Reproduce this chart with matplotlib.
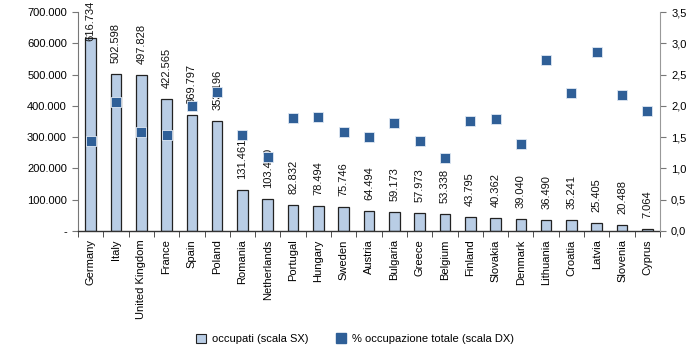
import numpy as np
import matplotlib.pyplot as plt
from matplotlib.patches import Patch
from matplotlib.lines import Line2D

plt.rcParams['font.family'] = ['Liberation Sans', 'DejaVu Sans']

# Data
countries = ['Germany', 'Italy', 'United Kingdom', 'France', 'Spain', 'Poland',
             'Romania', 'Netherlands', 'Portugal', 'Hungary', 'Sweden', 'Austria',
             'Bulgaria', 'Greece', 'Belgium', 'Finland', 'Slovakia', 'Denmark',
             'Lithuania', 'Croatia', 'Latvia', 'Slovenia', 'Cyprus']
occupati = [616734, 502598, 497828, 422565, 369797, 353196, 131461, 103420,
            82832, 78494, 75746, 64494, 59173, 57973, 53338, 43795, 40362,
            39040, 36490, 35241, 25405, 20488, 7064]
pct_occ = [1.44, 2.06, 1.58, 1.53, 2.00, 2.22, 1.53, 1.18, 1.81, 1.82, 1.58,
           1.50, 1.72, 1.44, 1.17, 1.76, 1.79, 1.39, 2.73, 2.21, 2.86, 2.17, 1.92]

left_ticks = [0, 100000, 200000, 300000, 400000, 500000, 600000, 700000]
right_ticks = [0.0, 0.5, 1.0, 1.5, 2.0, 2.5, 3.0, 3.5]

bar_color = '#b9cde5'
marker_color = '#2f5f97'


def fmt_thousands(v):
    return f'{int(v):,}'.replace(',', '.')


fig = plt.figure(figsize=(7.0, 3.57), dpi=100)
ax = fig.add_axes([78 / 700, 1 - 231 / 357, (660 - 78) / 700, (231 - 12) / 357])
x = np.arange(len(countries))

ax.bar(x, occupati, width=0.42, color=bar_color, edgecolor='#222222', linewidth=0.9, zorder=2)
labels = []
for xi, v in zip(x, occupati):
    t = ax.annotate(fmt_thousands(v), (xi, v), xytext=(0, 11), textcoords='offset pixels',
                    rotation=90, ha='center', va='bottom', fontsize=8, color='#111111',
                    zorder=3, annotation_clip=False)
    labels.append(t)

ax.set_xlim(-0.5, len(countries) - 0.5)
ax.set_ylim(0, 700000)
ax.set_yticks(left_ticks)
ax.set_yticklabels(['-' if t == 0 else fmt_thousands(t) for t in left_ticks], fontsize=8)
ax.set_xticks(x)
ax.set_xticklabels(countries, rotation=90, fontsize=8)
ax.set_xticks(np.arange(-0.5, len(countries)), minor=True)
ax.tick_params(axis='x', which='major', length=0, pad=6)
ax.tick_params(axis='x', which='minor', length=4, direction='out', color='#333333')
ax.tick_params(axis='y', length=4, direction='out', color='#777777', pad=4)
for s in ['top', 'right']:
    ax.spines[s].set_visible(False)
ax.spines['left'].set_color('#777777')
ax.spines['bottom'].set_color('#333333')
ax.spines['bottom'].set_linewidth(1.0)

ax2 = ax.twinx()
ax2.scatter(x, pct_occ, marker='s', s=55, color=marker_color, edgecolors='#dfe8f3',
            linewidths=0.6, zorder=4)
ax2.set_ylim(0, 3.5)
ax2.set_yticks(right_ticks)
ax2.set_yticklabels([f'{t:.1f}'.replace('.', ',') for t in right_ticks], fontsize=8)
ax2.tick_params(axis='y', length=4, direction='out', color='#777777', pad=4)
for s in ['top', 'left', 'bottom']:
    ax2.spines[s].set_visible(False)
ax2.spines['right'].set_color('#999999')

handles = [Patch(facecolor=bar_color, edgecolor='#222222', linewidth=0.8, label='occupati (scala SX)'),
           Line2D([], [], marker='s', linestyle='none', markersize=7, color=marker_color,
                  markeredgecolor=marker_color, label='% occupazione totale (scala DX)')]
fig.legend(handles=handles, loc='center', bbox_to_anchor=(355 / 700, 1 - 339 / 357), ncol=2,
           frameon=False, fontsize=8, handlelength=0.9, handleheight=0.9,
           handletextpad=0.5, columnspacing=2.5)

# keep labels that would run off the top inside the figure (as the original does)
fig.canvas.draw()
renderer = fig.canvas.get_renderer()
fig_top = fig.bbox.height - 1
for t in labels:
    bb = t.get_window_extent(renderer)
    if bb.y1 > fig_top:
        dx, dy = t.xyann
        t.xyann = (dx, dy - (bb.y1 - fig_top))

fig.savefig('out.png', dpi=100)
